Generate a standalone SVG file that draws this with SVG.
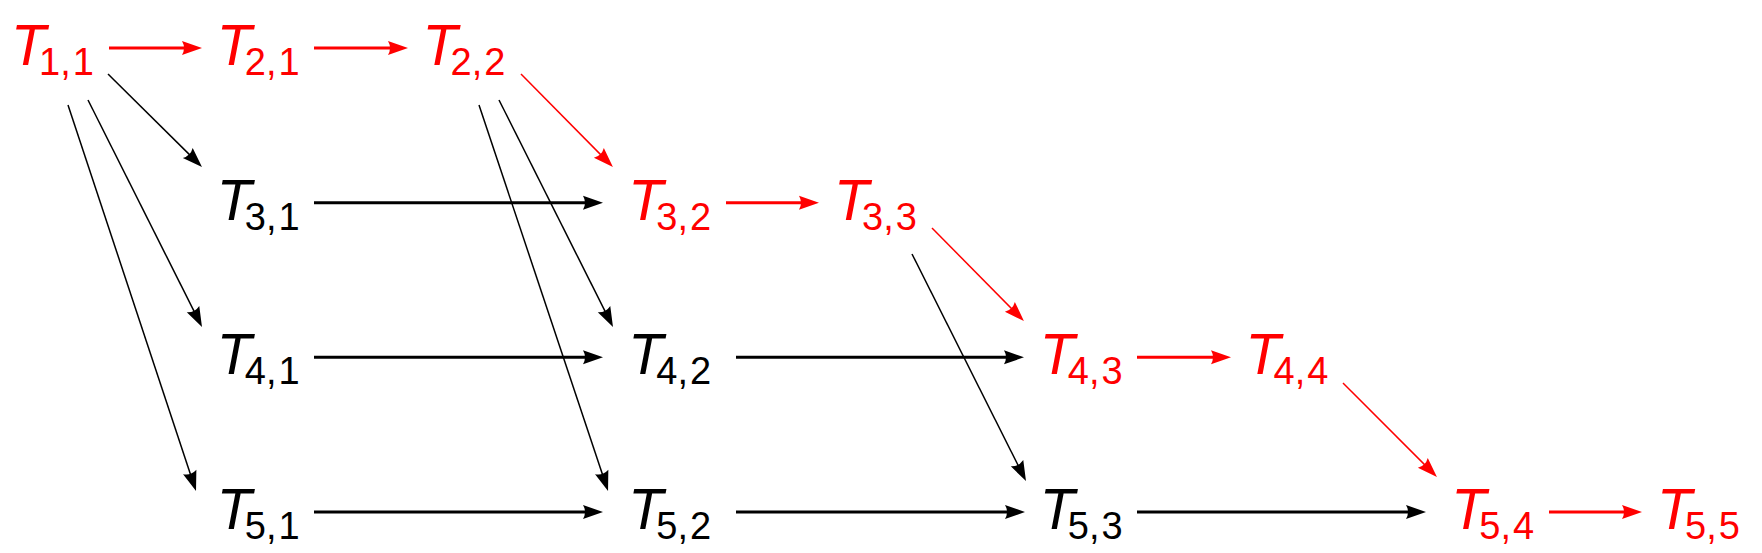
<svg xmlns="http://www.w3.org/2000/svg" width="1762" height="553" viewBox="0 0 1762 553">
<style>
text{font-family:"Liberation Sans",Arial,sans-serif}
.t{font-style:italic;font-size:57px}
.s{font-style:normal;font-size:38px}
.red{fill:#ff0000}
.blk{fill:#000000}
.h{stroke-width:3;fill:none}
.d{stroke-width:1.5;fill:none}
.kr{stroke:#ff0000}
.kb{stroke:#000000}
</style>
<defs>
<marker id="ab" viewBox="-21 -8 22 16" refX="-8" refY="0" markerWidth="22" markerHeight="16" markerUnits="userSpaceOnUse" orient="auto">
<path d="M0,0 L-20,-7 Q-16,0 -20,7 Z" fill="#000000"/>
</marker>
<marker id="ar" viewBox="-21 -8 22 16" refX="-8" refY="0" markerWidth="22" markerHeight="16" markerUnits="userSpaceOnUse" orient="auto">
<path d="M0,0 L-20,-7 Q-16,0 -20,7 Z" fill="#ff0000"/>
</marker>
</defs>
<g id="connectors">
<line class="h kr" x1="109" y1="48" x2="194" y2="48" marker-end="url(#ar)"/>
<line class="h kr" x1="314" y1="48" x2="400" y2="48" marker-end="url(#ar)"/>
<line class="h kb" x1="314" y1="202.7" x2="595" y2="202.7" marker-end="url(#ab)"/>
<line class="h kr" x1="726" y1="202.7" x2="811" y2="202.7" marker-end="url(#ar)"/>
<line class="h kb" x1="314" y1="357.3" x2="595" y2="357.3" marker-end="url(#ab)"/>
<line class="h kb" x1="736" y1="357.3" x2="1016" y2="357.3" marker-end="url(#ab)"/>
<line class="h kr" x1="1137" y1="357.3" x2="1223" y2="357.3" marker-end="url(#ar)"/>
<line class="h kb" x1="314" y1="512" x2="595" y2="512" marker-end="url(#ab)"/>
<line class="h kb" x1="736" y1="512" x2="1017" y2="512" marker-end="url(#ab)"/>
<line class="h kb" x1="1137" y1="512" x2="1418" y2="512" marker-end="url(#ab)"/>
<line class="h kr" x1="1549" y1="512" x2="1634" y2="512" marker-end="url(#ar)"/>
<line class="d kb" x1="108" y1="74" x2="196.3" y2="161.4" marker-end="url(#ab)"/>
<line class="d kr" x1="521" y1="74" x2="607.3" y2="161.4" marker-end="url(#ar)"/>
<line class="d kr" x1="932" y1="228" x2="1018.3" y2="315.4" marker-end="url(#ar)"/>
<line class="d kr" x1="1343" y1="383" x2="1431.3" y2="471.4" marker-end="url(#ar)"/>
<line class="d kb" x1="88" y1="100" x2="198.4" y2="319.9" marker-end="url(#ab)"/>
<line class="d kb" x1="499" y1="100" x2="609.4" y2="319.9" marker-end="url(#ab)"/>
<line class="d kb" x1="912" y1="254" x2="1022.4" y2="473.9" marker-end="url(#ab)"/>
<line class="d kb" x1="68" y1="105" x2="193.5" y2="483.4" marker-end="url(#ab)"/>
<line class="d kb" x1="479" y1="105" x2="605.5" y2="483.4" marker-end="url(#ab)"/>
</g>
<g id="n11"><text class="t red" x="11" y="65">T<tspan class="s" x="39" y="75">1,</tspan><tspan class="s" dx="2">1</tspan></text></g>
<g id="n21"><text class="t red" x="216.75" y="65">T<tspan class="s" x="244.75" y="75">2,</tspan><tspan class="s" dx="2">1</tspan></text></g>
<g id="n22"><text class="t red" x="422.5" y="65">T<tspan class="s" x="450.5" y="75">2,</tspan><tspan class="s" dx="2">2</tspan></text></g>
<g id="n31"><text class="t blk" x="216.75" y="219.7">T<tspan class="s" x="244.75" y="229.7">3,</tspan><tspan class="s" dx="2">1</tspan></text></g>
<g id="n32"><text class="t red" x="628.25" y="219.7">T<tspan class="s" x="656.25" y="229.7">3,</tspan><tspan class="s" dx="2">2</tspan></text></g>
<g id="n33"><text class="t red" x="834" y="219.7">T<tspan class="s" x="862" y="229.7">3,</tspan><tspan class="s" dx="2">3</tspan></text></g>
<g id="n41"><text class="t blk" x="216.75" y="374.3">T<tspan class="s" x="244.75" y="384.3">4,</tspan><tspan class="s" dx="2">1</tspan></text></g>
<g id="n42"><text class="t blk" x="628.25" y="374.3">T<tspan class="s" x="656.25" y="384.3">4,</tspan><tspan class="s" dx="2">2</tspan></text></g>
<g id="n43"><text class="t red" x="1039.75" y="374.3">T<tspan class="s" x="1067.75" y="384.3">4,</tspan><tspan class="s" dx="2">3</tspan></text></g>
<g id="n44"><text class="t red" x="1245.5" y="374.3">T<tspan class="s" x="1273.5" y="384.3">4,</tspan><tspan class="s" dx="2">4</tspan></text></g>
<g id="n51"><text class="t blk" x="216.75" y="529">T<tspan class="s" x="244.75" y="539">5,</tspan><tspan class="s" dx="2">1</tspan></text></g>
<g id="n52"><text class="t blk" x="628.25" y="529">T<tspan class="s" x="656.25" y="539">5,</tspan><tspan class="s" dx="2">2</tspan></text></g>
<g id="n53"><text class="t blk" x="1039.75" y="529">T<tspan class="s" x="1067.75" y="539">5,</tspan><tspan class="s" dx="2">3</tspan></text></g>
<g id="n54"><text class="t red" x="1451.25" y="529">T<tspan class="s" x="1479.25" y="539">5,</tspan><tspan class="s" dx="2">4</tspan></text></g>
<g id="n55"><text class="t red" x="1657" y="529">T<tspan class="s" x="1685" y="539">5,</tspan><tspan class="s" dx="2">5</tspan></text></g>
</svg>
